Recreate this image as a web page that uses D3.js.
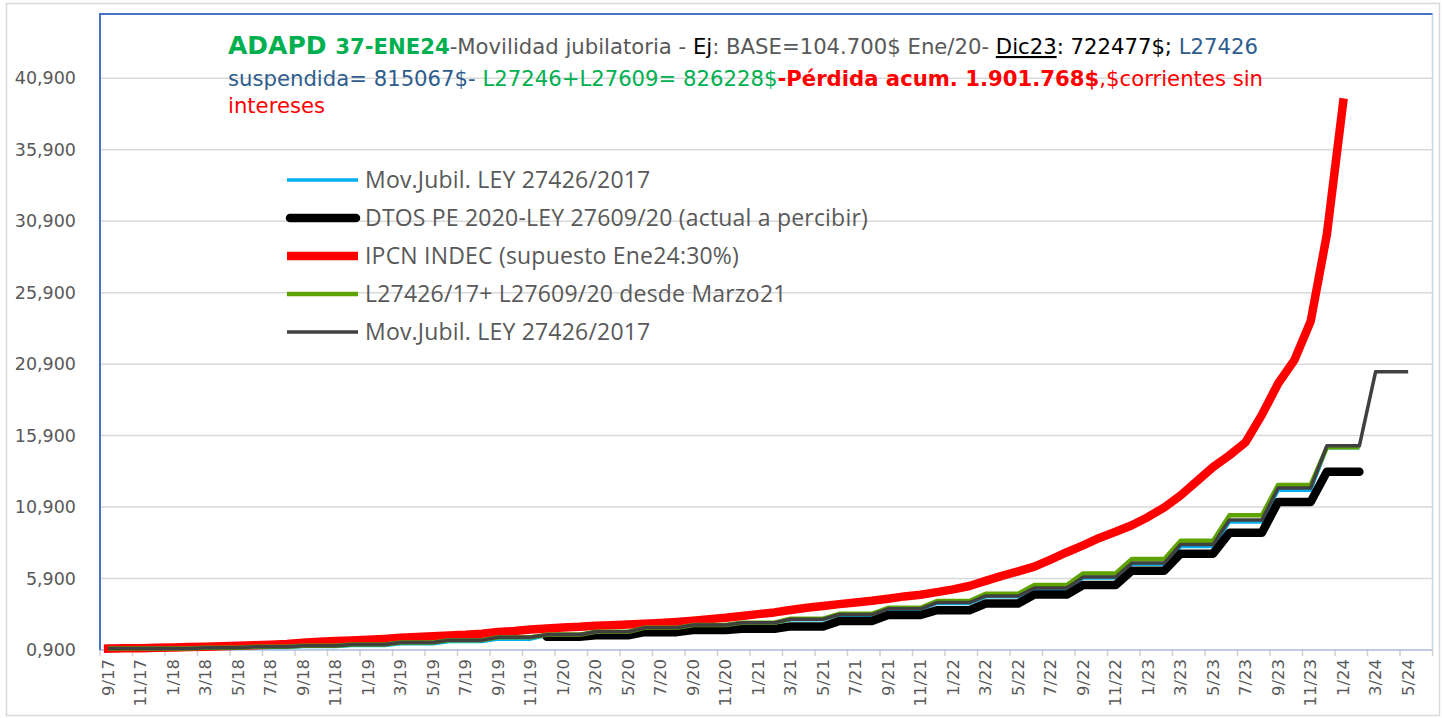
<!DOCTYPE html>
<html>
<head>
<meta charset="utf-8">
<script src="https://cdn.jsdelivr.net/npm/d3@7"></script>
<style>
  body { margin: 0; background: #fff; }
  svg { display: block; }
</style>
</head>
<body>
<svg id="chart" width="1442" height="718"></svg>
<script>
// Movilidad jubilatoria - ADAPD

var months = ["9/17","10/17","11/17","12/17",
  "1/18","2/18","3/18","4/18","5/18","6/18","7/18","8/18","9/18","10/18","11/18","12/18",
  "1/19","2/19","3/19","4/19","5/19","6/19","7/19","8/19","9/19","10/19","11/19","12/19",
  "1/20","2/20","3/20","4/20","5/20","6/20","7/20","8/20","9/20","10/20","11/20","12/20",
  "1/21","2/21","3/21","4/21","5/21","6/21","7/21","8/21","9/21","10/21","11/21","12/21",
  "1/22","2/22","3/22","4/22","5/22","6/22","7/22","8/22","9/22","10/22","11/22","12/22",
  "1/23","2/23","3/23","4/23","5/23","6/23","7/23","8/23","9/23","10/23","11/23","12/23",
  "1/24","2/24","3/24","4/24","5/24","6/24"];

var yTicks = [0.9, 5.9, 10.9, 15.9, 20.9, 25.9, 30.9, 35.9, 40.9];
var yTickLabels = ["0,900","5,900","10,900","15,900","20,900","25,900","30,900","35,900","40,900"];

// Mov.Jubil. LEY 27426/2017 (blue)
var ley27426 = [0.99,0.99,0.99,0.99,0.99,0.99, 1.03,1.03,1.03, 1.08,1.08,1.08, 1.14,1.14,1.14,
  1.22,1.22,1.22, 1.33,1.33,1.33, 1.50,1.50,1.50, 1.66,1.66,1.66, 1.92,1.92,1.92,
  2.14,2.14,2.14, 2.40,2.40,2.40, 2.60,2.60,2.60, 2.77,2.77,2.77, 3.02,3.02,3.02,
  3.33,3.33,3.33, 3.72,3.72,3.72, 4.16,4.16,4.16, 4.62,4.62,4.62, 5.17,5.17,5.17,
  5.93,5.93,5.93, 6.90,6.90,6.90, 8.14,8.14,8.14, 9.86,9.86,9.86, 12.08,12.08,12.08,
  15.05,15.05,15.05, null,null,null,null];

// DTOS PE 2020-LEY 27609/20 (black)
var dtos = [null,null,null,null,null,null,null,null,null,null,null,null,null,null,null,
  null,null,null,null,null,null,null,null,null,null,null,null,
  1.82,1.82,1.82, 1.93,1.93,1.93, 2.15,2.15,2.15, 2.30,2.30,2.30, 2.38,2.38,2.38,
  2.55,2.55,2.55, 2.93,2.93,2.93, 3.35,3.35,3.35, 3.68,3.68,3.68, 4.15,4.15,4.15,
  4.78,4.78,4.78, 5.45,5.45,5.45, 6.45,6.45,6.45, 7.64,7.64,7.64, 9.10,9.10,9.10,
  11.26,11.26,11.26, 13.38,13.38,13.38, null,null,null,null];

// IPCN INDEC (red)
var ipcn = [1.00,1.02,1.03,1.06,1.08,1.11,1.13,1.16,1.19,1.23,1.27,1.32,1.40,1.48,1.53,1.57,
  1.61,1.67,1.75,1.81,1.87,1.92,1.96,2.04,2.16,2.23,2.33,2.41,
  2.47,2.52,2.60,2.64,2.68,2.74,2.79,2.86,2.95,3.06,3.15,3.28,
  3.41,3.53,3.70,3.86,3.98,4.11,4.23,4.34,4.49,4.65,4.77,4.95,
  5.14,5.38,5.74,6.09,6.40,6.73,7.23,7.74,8.22,8.74,9.17,9.63,
  10.21,10.88,11.72,12.71,13.70,14.52,15.44,17.35,19.55,21.18,23.89,29.98,
  39.2, null,null,null,null,null];

// L27426/17+ L27609/20 desde Marzo21 (green)
var mixta = [1.00,1.00,1.00,1.00,1.00,1.00, 1.06,1.06,1.06, 1.12,1.12,1.12, 1.19,1.19,1.19,
  1.28,1.28,1.28, 1.43,1.43,1.43, 1.59,1.59,1.59, 1.79,1.79,1.79, 1.97,1.97,1.97,
  2.18,2.18,2.18, 2.45,2.45,2.45, 2.65,2.65,2.65, 2.81,2.81,2.81,
  3.09,3.09,3.09, 3.43,3.43,3.43, 3.85,3.85,3.85, 4.32,4.32,4.32, 4.84,4.84,4.84,
  5.45,5.45,5.45, 6.26,6.26,6.26, 7.27,7.27,7.27, 8.55,8.55,8.55, 10.32,10.32,10.32,
  12.45,12.45,12.45, 15.08,15.08,15.08, null,null,null,null];

// Mov.Jubil. LEY 27426/2017 (dark grey, up to 5/24)
var ley27426b = [1.00,1.00,1.00,1.00,1.00,1.00, 1.06,1.06,1.06, 1.12,1.12,1.12, 1.19,1.19,1.19,
  1.28,1.28,1.28, 1.43,1.43,1.43, 1.59,1.59,1.59, 1.79,1.79,1.79, 1.97,1.97,1.97,
  2.18,2.18,2.18, 2.45,2.45,2.45, 2.65,2.65,2.65, 2.81,2.81,2.81, 3.06,3.06,3.06,
  3.38,3.38,3.38, 3.78,3.78,3.78, 4.22,4.22,4.22, 4.68,4.68,4.68, 5.24,5.24,5.24,
  6.00,6.00,6.00, 6.98,6.98,6.98, 8.28,8.28,8.28, 10.00,10.00,10.00, 12.24,12.24,12.24,
  15.19,15.19,15.19, 20.37,20.37,20.37, null];

var series = [
  {name: "Mov.Jubil. LEY 27426/2017", values: ley27426, color: "#00B0F0", width: 3.5, cap: "butt"},
  {name: "DTOS PE 2020-LEY 27609/20 (actual a percibir)", values: dtos, color: "#000000", width: 8.5, cap: "round"},
  {name: "IPCN INDEC (supuesto Ene24:30%)", values: ipcn, color: "#FF0000", width: 8.5, cap: "square"},
  {name: "L27426/17+ L27609/20 desde Marzo21", values: mixta, color: "#5FA300", width: 4.5, cap: "butt"},
  {name: "Mov.Jubil. LEY 27426/2017", values: ley27426b, color: "#404040", width: 3.5, cap: "butt"}
];

var svg = d3.select("#chart");
var plotLeft = 100, plotRight = 1432.5, plotTop = 14, plotBottom = 650;

svg.append("rect").attr("width", 1442).attr("height", 718).attr("fill", "#fff");
svg.append("rect")
  .attr("x", 6.5).attr("y", 3.5).attr("width", 1433).attr("height", 712)
  .attr("fill", "none").attr("stroke", "#d9d9d9").attr("stroke-width", 1.5);

var x = d3.scaleBand().domain(months).range([plotLeft, plotRight]).padding(0);
var y = d3.scaleLinear().domain([0.9, 45.4]).range([plotBottom, plotTop]);
function cx(m){ return x(m) + x.bandwidth() / 2; }

// grid
svg.append("g").selectAll("line")
  .data(yTicks.slice(1))
  .enter().append("line")
  .attr("x1", plotLeft).attr("x2", plotRight)
  .attr("y1", function(d){ return y(d); }).attr("y2", function(d){ return y(d); })
  .attr("stroke", "#d9d9d9").attr("stroke-width", 1.5);

// y axis labels
var yAxis = svg.append("g")
  .attr("transform", "translate(" + (plotLeft - 24) + ",0)")
  .call(d3.axisLeft(y).tickValues(yTicks).tickSize(0)
    .tickFormat(function(d, i){ return yTickLabels[i]; }));
yAxis.select(".domain").remove();
yAxis.selectAll("text")
  .attr("x", 0)
  .style("font-family", "'DejaVu Sans', Verdana, sans-serif")
  .style("font-size", "17.5px")
  .attr("fill", "#595959");

// x axis labels (every 2 months)
var xLabels = months.filter(function(d, i){ return i % 2 == 0 && i < 81; });
var xAxis = svg.append("g")
  .attr("transform", "translate(0," + plotBottom + ")")
  .call(d3.axisBottom(x).tickValues(xLabels).tickSize(0));
xAxis.select(".domain").remove();
xAxis.selectAll("text")
  .attr("transform", "translate(0,9) rotate(-90)")
  .attr("x", 0).attr("y", 0).attr("dy", "0.35em")
  .style("text-anchor", "end")
  .style("font-family", "'DejaVu Sans', Verdana, sans-serif")
  .style("font-size", "16.5px")
  .attr("fill", "#595959");

// tick marks on category boundaries
var tickPos = months.filter(function(d, i){ return i % 2 == 0; }).map(function(d){ return x(d); });
tickPos.push(plotRight);
svg.append("g").selectAll("line")
  .data(tickPos)
  .enter().append("line")
  .attr("x1", function(d){ return d; }).attr("x2", function(d){ return d; })
  .attr("y1", plotBottom).attr("y2", plotBottom + 6)
  .attr("stroke", "#d0d0d0").attr("stroke-width", 1.5);

// plot frame
svg.append("line").attr("x1", plotLeft).attr("x2", plotRight).attr("y1", plotBottom).attr("y2", plotBottom)
  .attr("stroke", "#a9bcdf").attr("stroke-width", 1.5);
svg.append("line").attr("x1", plotRight).attr("x2", plotRight).attr("y1", plotTop).attr("y2", plotBottom)
  .attr("stroke", "#c9d5ea").attr("stroke-width", 1.5);
svg.append("line").attr("x1", plotLeft).attr("x2", plotRight).attr("y1", plotTop).attr("y2", plotTop)
  .attr("stroke", "#4472C4").attr("stroke-width", 2);
svg.append("line").attr("x1", plotLeft).attr("x2", plotLeft).attr("y1", plotTop - 1).attr("y2", plotBottom)
  .attr("stroke", "#4472C4").attr("stroke-width", 2);

// lines
var line = d3.line()
  .defined(function(d){ return d.v != null; })
  .x(function(d){ return cx(d.m); })
  .y(function(d){ return y(d.v); });

series.forEach(function(s){
  var pts = months.map(function(m, i){ return {m: m, v: s.values[i]}; });
  svg.append("path")
    .datum(pts)
    .attr("d", line)
    .attr("fill", "none")
    .attr("stroke", s.color)
    .attr("stroke-width", s.width)
    .attr("stroke-linejoin", "round")
    .attr("stroke-linecap", s.cap);
});

// legend
var legendY = [180, 218, 256, 294, 332];
var legend = svg.append("g");
series.forEach(function(s, i){
  legend.append("line")
    .attr("x1", s.cap == "round" ? 290 : 287).attr("x2", s.cap == "round" ? 356 : 358)
    .attr("y1", legendY[i]).attr("y2", legendY[i])
    .attr("stroke", s.color).attr("stroke-width", s.width)
    .attr("stroke-linecap", s.cap == "square" ? "butt" : s.cap);
  legend.append("text")
    .attr("x", 365).attr("y", legendY[i]).attr("dy", "0.35em")
    .style("font-family", "'Open Sans', 'Noto Sans', sans-serif")
    .style("font-size", "23px")
    .style("letter-spacing", "0.2px")
    .attr("fill", "#595959")
    .text(s.name);
});

// title
var title = svg.append("text")
  .style("font-family", "'DejaVu Sans', sans-serif")
  .style("font-size", "21.2px");

var t1 = title.append("tspan").attr("x", 228).attr("y", 54);
t1.append("tspan").text("ADAPD ").attr("fill", "#00B050").style("font-weight", "bold").style("font-size", "25px");
t1.append("tspan").text("37-ENE24").attr("fill", "#00B050").style("font-weight", "bold");
t1.append("tspan").text("-Movilidad jubilatoria - ").attr("fill", "#595959");
t1.append("tspan").text("Ej").attr("fill", "#000");
t1.append("tspan").text(": BASE=104.700$ Ene/20- ").attr("fill", "#595959");
t1.append("tspan").text("Dic23").attr("fill", "#000").style("text-decoration", "underline");
t1.append("tspan").text(": 722477$; ").attr("fill", "#000");
t1.append("tspan").text("L27426").attr("fill", "#2E5D8E");

var t2 = title.append("tspan").attr("x", 228).attr("y", 86);
t2.append("tspan").text("suspendida= 815067$- ").attr("fill", "#2E5D8E");
t2.append("tspan").text("L27246+L27609= 826228$").attr("fill", "#00B050");
t2.append("tspan").text("-Pérdida acum. 1.901.768$").attr("fill", "#FF0000").style("font-weight", "bold");
t2.append("tspan").text(",$corrientes sin").attr("fill", "#FF0000");

title.append("tspan").attr("x", 228).attr("y", 113).text("intereses").attr("fill", "#FF0000");
</script>
</body>
</html>
